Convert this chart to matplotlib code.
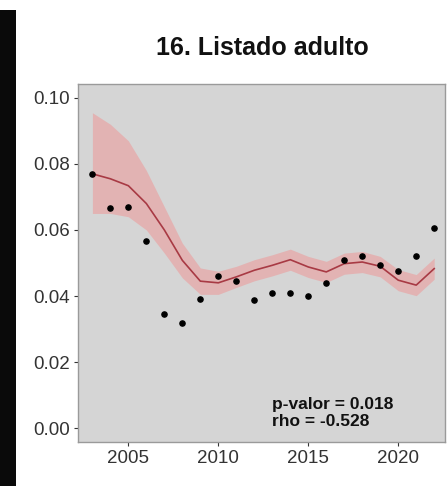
import matplotlib
matplotlib.use('Agg')
import matplotlib.pyplot as plt
from matplotlib.patches import Rectangle
import numpy as np

years = [2003, 2004, 2005, 2006, 2007, 2008, 2009, 2010, 2011, 2012,
         2013, 2014, 2015, 2016, 2017, 2018, 2019, 2020, 2021, 2022]
values = [0.0769, 0.0667, 0.0670, 0.0566, 0.0345, 0.0319, 0.0391, 0.0462, 0.0447, 0.0388,
          0.0410, 0.0410, 0.0401, 0.0438, 0.0508, 0.0522, 0.0494, 0.0476, 0.0522, 0.0607]
smooth = [0.0770, 0.0755, 0.0734, 0.0680, 0.0600, 0.0508, 0.0445, 0.0440, 0.0458, 0.0478,
          0.0493, 0.0510, 0.0488, 0.0473, 0.0498, 0.0503, 0.0490, 0.0448, 0.0433, 0.0483]
upper = [0.0955, 0.0920, 0.0870, 0.0780, 0.0670, 0.0560, 0.0485, 0.0475, 0.0490, 0.0510,
         0.0525, 0.0542, 0.0520, 0.0505, 0.0530, 0.0535, 0.0520, 0.0480, 0.0465, 0.0515]
lower = [0.0650, 0.0650, 0.0640, 0.0600, 0.0530, 0.0455, 0.0405, 0.0405, 0.0426, 0.0446,
         0.0461, 0.0478, 0.0456, 0.0441, 0.0466, 0.0471, 0.0458, 0.0416, 0.0401, 0.0451]

title = '16. Listado adulto'
stats = 'p-valor = 0.018\nrho = -0.528'
xticks = [2005, 2010, 2015, 2020]
yticks = [0.00, 0.02, 0.04, 0.06, 0.08, 0.10]

plt.rcParams['font.family'] = ['Liberation Sans', 'DejaVu Sans']

fig = plt.figure(figsize=(4.47, 4.86), dpi=100)
fig.patch.set_facecolor('white')

# black strip on the left
fig.patches.append(Rectangle((0, 0), 16 / 447, 476 / 486, transform=fig.transFigure,
                             facecolor='#0a0a0a', edgecolor='none'))

ax = fig.add_axes([78 / 447, 44 / 486, 367 / 447, 358 / 486])
ax.set_facecolor('#d5d5d5')

ax.fill_between(years, lower, upper, color='#e6abab', alpha=0.8, linewidth=0)
ax.plot(years, smooth, color='#a83a44', linewidth=1.2)
ax.scatter(years, values, s=14, color='black', zorder=3)

ax.set_xlim(2002.2, 2022.6)
ax.set_ylim(-0.0042, 0.1042)
ax.set_xticks(xticks)
ax.set_xticklabels([str(t) for t in xticks])
ax.set_yticks(yticks)
ax.set_yticklabels(['%.2f' % t for t in yticks])
ax.tick_params(axis='both', labelsize=13.5, colors='#333333', length=3, width=0.8)
ax.tick_params(axis='x', pad=3)
ax.tick_params(axis='y', pad=3)
for s in ax.spines.values():
    s.set_color('#9a9a9a')
    s.set_linewidth(1.0)

ax.text(2013.0, 0.0006, stats, fontsize=12.5, fontweight='bold', color='#111111',
        va='baseline', ha='left', linespacing=1.15)

fig.text(0.587, 0.901, title, fontsize=18, fontweight='bold', ha='center', va='center',
         color='#111111')

fig.savefig('out.png', dpi=100)
